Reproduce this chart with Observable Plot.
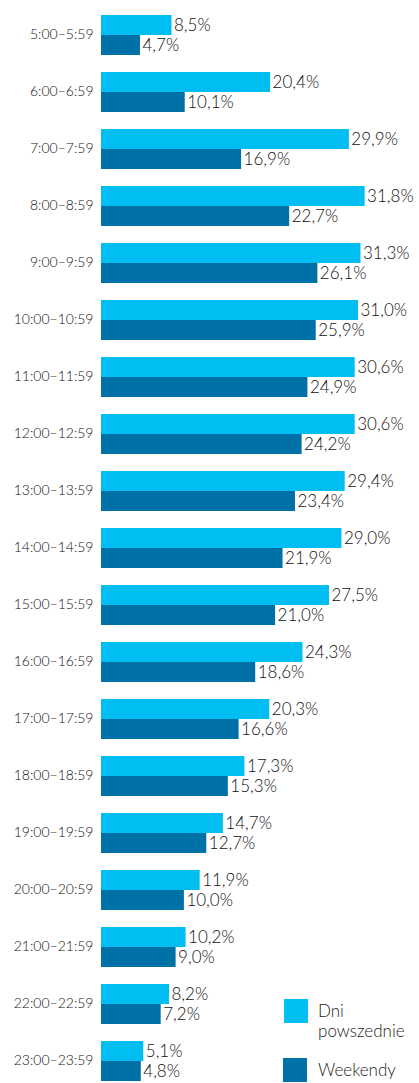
<!DOCTYPE html>
<html>
<head>
<meta charset="utf-8">
<script src="https://cdn.jsdelivr.net/npm/d3@7"></script>
<script src="https://cdn.jsdelivr.net/npm/@observablehq/plot@0.6"></script>
<style>
  html, body { margin: 0; padding: 0; background: #fff; }
  #wrap { position: relative; width: 419px; height: 1083px; overflow: hidden; font-family: Lato, "Open Sans", sans-serif; font-weight: 300; color: #222; }
  .sw { position: absolute; width: 24px; height: 24px; }
  .lt { position: absolute; font-size: 17px; line-height: 20px; color: #1a1a1a; font-weight: 300; }
</style>
</head>
<body>
<div id="wrap"></div>
<script>
const hours = ["5:00–5:59","6:00–6:59","7:00–7:59","8:00–8:59","9:00–9:59","10:00–10:59","11:00–11:59","12:00–12:59","13:00–13:59","14:00–14:59","15:00–15:59","16:00–16:59","17:00–17:59","18:00–18:59","19:00–19:59","20:00–20:59","21:00–21:59","22:00–22:59","23:00–23:59"];
const weekdays = [8.5,20.4,29.9,31.8,31.3,31.0,30.6,30.6,29.4,29.0,27.5,24.3,20.3,17.3,14.7,11.9,10.2,8.2,5.1];
const weekends = [4.7,10.1,16.9,22.7,26.1,25.9,24.9,24.2,23.4,21.9,21.0,18.6,16.6,15.3,12.7,10.0,9.0,7.2,4.8];
const series = ["Dni powszednie","Weekendy"];
const colors = ["#00BEF2","#0071A7"];

const data = [];
hours.forEach((h, i) => {
  data.push({hour: h, series: series[0], value: weekdays[i]});
  data.push({hour: h, series: series[1], value: weekends[i]});
});
const fmt = v => v.toFixed(1).replace(".", ",") + "%";

const chart = Plot.plot({
  width: 419,
  height: 1083,
  marginLeft: 101,
  marginRight: 0,
  marginTop: 12,
  marginBottom: 0,
  style: {fontFamily: "Lato, 'Open Sans', sans-serif", fontWeight: 300, color: "#111", background: "#fff"},
  x: {domain: [0, 38.36], axis: null},
  y: {domain: series, axis: null, padding: 0},
  fy: {domain: hours, paddingInner: 0.285, paddingOuter: 0, label: null, axis: "left", tickSize: 0, tickPadding: 8, fontSize: 14},
  color: {domain: series, range: colors},
  marks: [
    Plot.barX(data, {x: "value", y: "series", fy: "hour", fill: "series"}),
    Plot.text(data, {x: "value", y: "series", fy: "hour", text: d => fmt(d.value), textAnchor: "start", dx: 2, fontSize: 17, fill: "#111"})
  ]
});
chart.querySelectorAll("g[aria-label='fy-axis tick label']").forEach(e => { e.setAttribute("font-size", 14); e.setAttribute("font-weight", 300); e.setAttribute("fill", "#111"); });
const wrap = document.getElementById("wrap");
wrap.appendChild(chart);

const legend = [
  {sw: [284, 999], color: colors[0], text: "Dni<br>powszednie", tx: [318, 1001]},
  {sw: [283, 1058], color: colors[1], text: "Weekendy", tx: [318, 1060]}
];
legend.forEach(l => {
  const s = document.createElement("div");
  s.className = "sw";
  s.style.left = l.sw[0] + "px"; s.style.top = l.sw[1] + "px"; s.style.background = l.color;
  wrap.appendChild(s);
  const t = document.createElement("div");
  t.className = "lt";
  t.style.left = l.tx[0] + "px"; t.style.top = l.tx[1] + "px";
  t.innerHTML = l.text;
  wrap.appendChild(t);
});
</script>
</body>
</html>
